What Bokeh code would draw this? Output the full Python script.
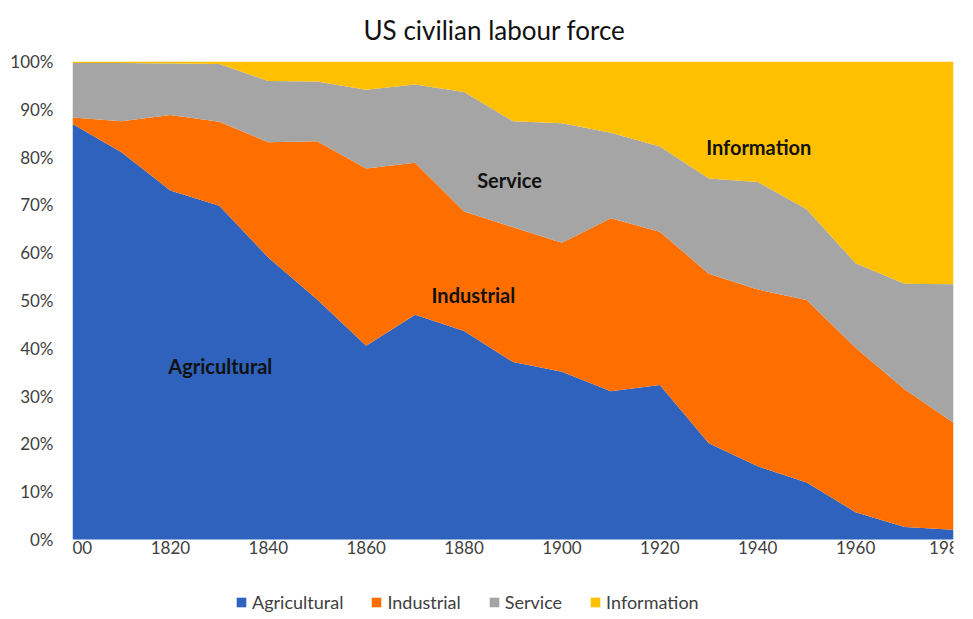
from bokeh.plotting import figure
from bokeh.models import (ColumnDataSource, Range1d, FixedTicker, PrintfTickFormatter,
                          Legend, LegendItem)
from bokeh.core.properties import value
from bokeh.embed import file_html
from bokeh.resources import INLINE

years = [1800, 1810, 1820, 1830, 1840, 1850, 1860, 1870, 1880, 1890,
         1900, 1910, 1920, 1930, 1940, 1950, 1960, 1970, 1980]
agricultural = [86.9, 81.0, 73.0, 69.8, 59.0, 50.2, 40.5, 47.0, 43.6, 37.1,
                35.1, 31.0, 32.3, 20.1, 15.3, 11.9, 5.7, 2.6, 2.0]
industrial = [1.4, 6.5, 15.8, 17.6, 24.1, 33.1, 37.1, 31.8, 25.0, 28.2,
              27.0, 36.2, 32.1, 35.5, 37.0, 38.2, 34.4, 28.8, 22.4]
service = [11.4, 12.2, 10.8, 12.1, 12.8, 12.5, 16.5, 16.4, 25.0, 22.2,
           25.0, 17.9, 17.8, 19.9, 22.5, 19.0, 17.7, 22.1, 29.0]
information = [0.3, 0.3, 0.4, 0.5, 4.1, 4.2, 5.9, 4.8, 6.4, 12.5,
               12.9, 14.9, 17.8, 24.5, 25.2, 30.9, 42.2, 46.5, 46.6]

series = ["Agricultural", "Industrial", "Service", "Information"]
colors = ["#2E62BC", "#FF6F00", "#A5A5A5", "#FFC000"]
x_ticks = [1800, 1820, 1840, 1860, 1880, 1900, 1920, 1940, 1960, 1980]
y_ticks = [0, 10, 20, 30, 40, 50, 60, 70, 80, 90, 100]

# in-chart labels: (text, x year, y percent)
area_labels = [("Agricultural", 1830.2, 36.3), ("Industrial", 1881.9, 51.2),
               ("Service", 1889.3, 75.3), ("Information", 1940.2, 82.2)]

source = ColumnDataSource(dict(year=years, Agricultural=agricultural, Industrial=industrial,
                               Service=service, Information=information))

FONT = "Lato"

# the frame extends below 0% so that the legend can sit inside it, under the x axis
p = figure(frame_width=881, frame_height=552, output_backend="svg", toolbar_location=None,
           x_range=Range1d(1800, 1980), y_range=Range1d(-15.5, 100),
           min_border_left=72, min_border_right=15, min_border_top=61, min_border_bottom=0,
           title="US civilian labour force")
p.outline_line_color = None
p.background_fill_color = "white"

p.title.align = "left"
p.title.offset = 291
p.title.vertical_align = "top"
p.title.text_font = FONT
p.title.text_font_size = "26px"
p.title.text_font_style = "normal"
p.title.text_color = "#111111"
p.title.standoff = 27

renderers = p.varea_stack(stackers=series, x="year", color=colors, source=source)

p.xgrid.grid_line_color = None
p.ygrid.grid_line_color = "#d9d9d9"
p.ygrid.ticker = FixedTicker(ticks=y_ticks[1:])

for ax in (p.xaxis[0], p.yaxis[0]):
    ax.axis_line_color = None
    ax.major_tick_line_color = None
    ax.minor_tick_line_color = None
    ax.major_tick_out = 0
    ax.major_tick_in = 0
    ax.minor_tick_out = 0
    ax.major_label_text_font = FONT
    ax.major_label_text_font_size = "17px"
    ax.major_label_text_color = "#404040"

p.xaxis[0].ticker = FixedTicker(ticks=x_ticks)
p.xaxis[0].major_label_standoff = 2
p.xaxis[0].fixed_location = 0
p.yaxis[0].ticker = FixedTicker(ticks=y_ticks)
p.yaxis[0].formatter = PrintfTickFormatter(format="%d%%")
p.yaxis[0].major_label_standoff = 19

for txt, xx, yy in area_labels:
    p.text(x=[xx], y=[yy], text=[txt], text_font=value(FONT), text_font_style="bold",
           text_font_size="20px", text_color="#111111", text_align="center",
           text_baseline="middle")

legend = Legend(items=[LegendItem(label=s, renderers=[r]) for s, r in zip(series, renderers)],
                orientation="horizontal", location=(163, 0),
                label_text_font=FONT, label_text_font_size="18px", label_text_color="#404040",
                glyph_width=12, glyph_height=12, label_standoff=5, spacing=27,
                padding=0, margin=0, border_line_color=None, background_fill_alpha=0)
p.add_layout(legend)

open("out.html", "w").write(file_html(p, INLINE))
